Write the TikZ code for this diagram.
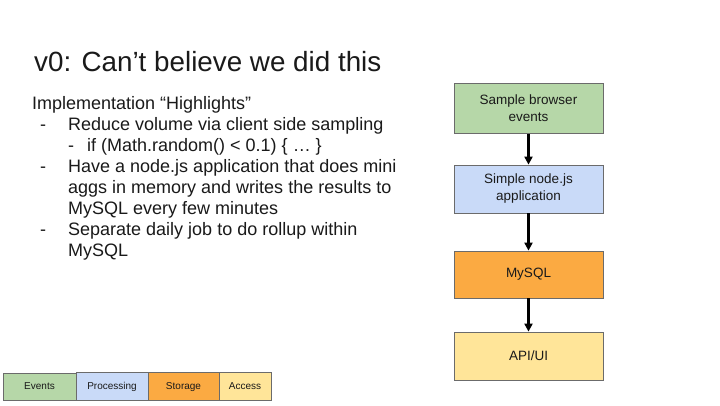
\documentclass[tikz,border=0pt]{standalone}
\usepackage{fontspec}
\setmainfont{Liberation Sans}
\usetikzlibrary{arrows.meta}
\definecolor{evgreen}{HTML}{B6D7A8}
\definecolor{prblue}{HTML}{C9DAF8}
\definecolor{storange}{HTML}{FBAA42}
\definecolor{acyellow}{HTML}{FFE599}
\definecolor{bordergray}{HTML}{6B6B6B}
\definecolor{txt}{HTML}{1A1A1A}
\begin{document}
\begin{tikzpicture}[x=1pt,y=-1pt,
  txtline/.style={anchor=base west,inner sep=0pt,text=txt,font=\fontsize{18}{20}\selectfont},
  flowbox/.style={draw=bordergray,line width=0.8pt,minimum width=149pt,text=txt,align=center,font=\fontsize{13.5}{17}\selectfont,inner sep=0pt},
  legbox/.style={draw=bordergray,line width=0.8pt,text=txt,font=\fontsize{10}{12}\selectfont,inner sep=0pt,text height=7.2pt,text depth=0.8pt},
  flowarrow/.style={-{Triangle[length=8pt,width=8pt]},line width=2.2pt,black}]
\useasboundingbox (0,0) rectangle (720,405);
\fill[white] (0,0) rectangle (720,405);
% title
\node[anchor=base west,inner sep=0pt,text=txt,font=\fontsize{27.8}{30}\selectfont] (title) at (34,71) {v0: Can’t believe we did this};
% bullet text
\node[txtline] (l1) at (32,109) {Implementation “Highlights”};
\node[txtline] (d2) at (40,130.1) {-};
\node[txtline] (l2) at (68,130.1) {Reduce volume via client side sampling};
\node[txtline] (d3) at (68,151.2) {-};
\node[txtline] (l3) at (87,151.2) {if (Math.random() < 0.1) \{ … \}};
\node[txtline] (d4) at (40,172.3) {-};
\node[txtline] (l4) at (68,172.3) {Have a node.js application that does mini};
\node[txtline] (l5) at (68,193.4) {aggs in memory and writes the results to};
\node[txtline] (l6) at (68,214.5) {MySQL every few minutes};
\node[txtline] (d7) at (40,235.6) {-};
\node[txtline] (l7) at (68,235.6) {Separate daily job to do rollup within};
\node[txtline] (l8) at (68,256.7) {MySQL};
% flow boxes
\node[flowbox,fill=evgreen,minimum height=50pt] (b1) at (528.5,108.5) {Sample browser\\events};
\node[flowbox,fill=prblue,minimum height=48pt] (b2) at (528.5,189) {Simple node.js\\application};
\node[flowbox,fill=storange,minimum height=47pt] (b3) at (528.5,274.5) {MySQL};
\node[flowbox,fill=acyellow,minimum height=48pt] (b4) at (528.5,356) {API/UI};
\draw[flowarrow] (b1.south) -- (b2.north);
\draw[flowarrow] (b2.south) -- (b3.north);
\draw[flowarrow] (b3.south) -- (b4.north);
% legend
\node[legbox,fill=evgreen,minimum width=73pt,minimum height=27pt] (e) at (39.5,386.5) {Events};
\node[legbox,fill=prblue,minimum width=72pt,minimum height=28pt] (p) at (112,386) {Processing};
\node[legbox,fill=storange,minimum width=71pt,minimum height=28pt] (s) at (183.5,386) {Storage};
\node[legbox,fill=acyellow,minimum width=52pt,minimum height=28pt] (a) at (245,386) {Access};
\end{tikzpicture}
\end{document}
